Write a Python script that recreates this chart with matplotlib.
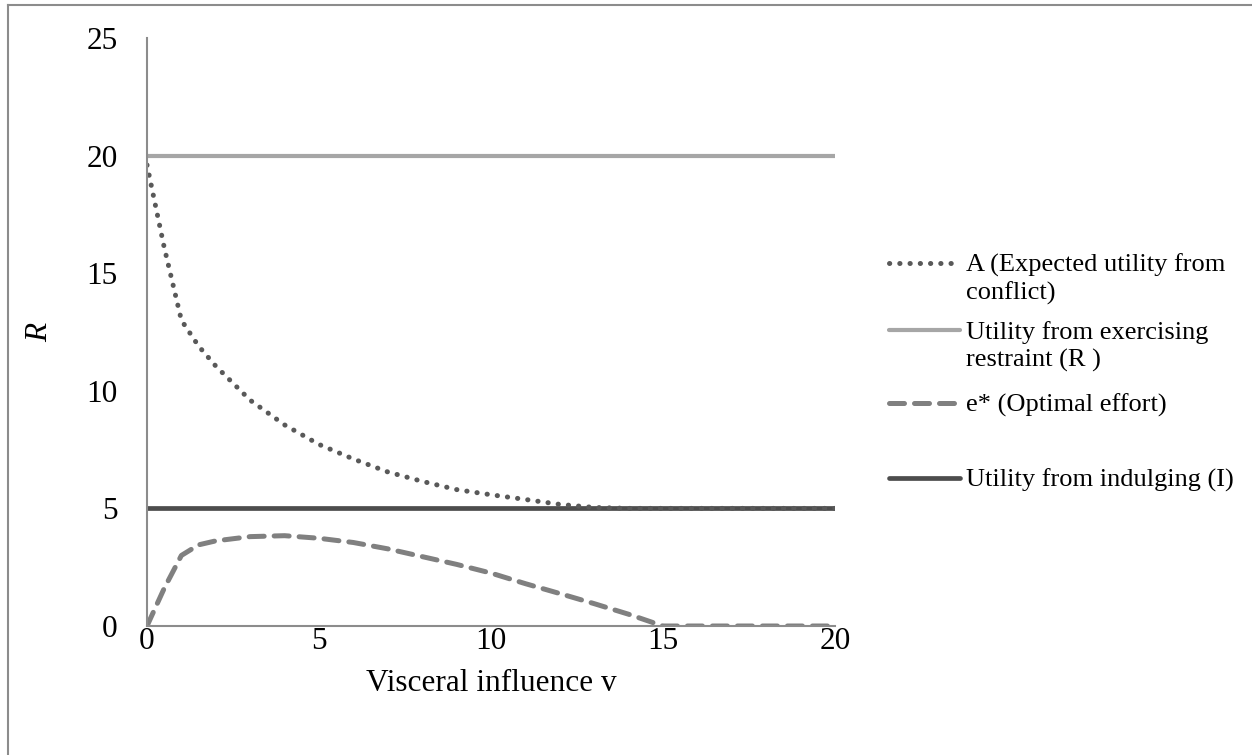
import numpy as np
import matplotlib
matplotlib.use("Agg")
import matplotlib.pyplot as plt
from matplotlib.lines import Line2D

plt.rcParams['font.family'] = ['Liberation Serif', 'DejaVu Serif']

# visceral influence v
v = [0, 0.5, 1, 1.5, 2, 3, 4, 5, 6, 7, 8, 9, 10, 11, 12, 13, 14, 15, 16, 17, 18, 19, 20]
# A (expected utility from conflict)
A = [19.6, 16.1, 13.0, 11.9, 11.05, 9.6, 8.55, 7.72, 7.1, 6.55, 6.15, 5.8, 5.58, 5.38, 5.17,
     5.04, 5.0, 5.0, 5.0, 5.0, 5.0, 5.0, 5.0]
# e* (optimal effort)
e_star = [0, 1.6, 3.0, 3.45, 3.62, 3.8, 3.84, 3.73, 3.55, 3.28, 2.95, 2.62, 2.25, 1.8, 1.38,
          0.95, 0.5, 0, 0, 0, 0, 0, 0]
R_val = 20
I_val = 5

labels = ['A (Expected utility from\nconflict)', 'Utility from exercising\nrestraint (R )',
          'e* (Optimal effort)', 'Utility from indulging (I)']

fig = plt.figure(figsize=(12.52, 7.55), dpi=100)
ax = fig.add_axes([147 / 1252, 1 - 626 / 755, (835 - 147) / 1252, (626 - 38) / 755])

c_A = '#595959'
c_R = '#A6A6A6'
c_e = '#808080'
c_I = '#4D4D4D'

st_A = dict(color=c_A, lw=3.6, linestyle=(0, (0.05, 2.0)), dash_capstyle='round')
st_R = dict(color=c_R, lw=3.0, solid_capstyle='round')
st_e = dict(color=c_e, lw=3.6, linestyle=(0, (3.0, 2.0)), dash_capstyle='round')
st_I = dict(color=c_I, lw=3.4, solid_capstyle='round')

ax.plot([v[0], v[-1]], [R_val, R_val], **st_R)
ax.plot([v[0], v[-1]], [I_val, I_val], **st_I)
ax.plot(v, A, **st_A)
ax.plot(v, e_star, **st_e)

ax.set_xlim(0, 20)
ax.set_ylim(0, 25)
ax.set_xticks([0, 5, 10, 15, 20])
ax.set_yticks([0, 5, 10, 15, 20, 25])
ax.tick_params(length=0, labelsize=22.5)
ax.tick_params(axis='y', pad=21)
ax.tick_params(axis='x', pad=1)
for s in ['top', 'right']:
    ax.spines[s].set_visible(False)
for s in ['left', 'bottom']:
    ax.spines[s].set_color('#8C8C8C')
    ax.spines[s].set_linewidth(1.5)
ax.set_xlabel('Visceral influence v', fontsize=22.5, labelpad=9)
ax.set_ylabel('R', fontsize=22.5, style='italic', labelpad=23)

# legend drawn by hand to keep Excel-like spacing
styles = [st_A, st_R, st_e, st_I]
rows = [263, 330, 403, 478]
for lab, st, yp in zip(labels, styles, rows):
    y = 1 - yp / 755
    fig.add_artist(Line2D([889 / 1252, 960 / 1252], [y, y], transform=fig.transFigure, **st))
    for k, part in enumerate(lab.split('\n')):
        fig.text(966 / 1252, 1 - (yp + 9 + 28 * k) / 755, part, fontsize=19,
                 va='baseline', ha='left', transform=fig.transFigure)

# outer frame (only left and top edges visible in the crop)
fig.add_artist(Line2D([8 / 1252, 8 / 1252], [0, 1 - 5 / 755], color='#8C8C8C', lw=1.5))
fig.add_artist(Line2D([8 / 1252, 1], [1 - 5 / 755, 1 - 5 / 755], color='#8C8C8C', lw=1.5))

fig.savefig('out.png', dpi=100)
